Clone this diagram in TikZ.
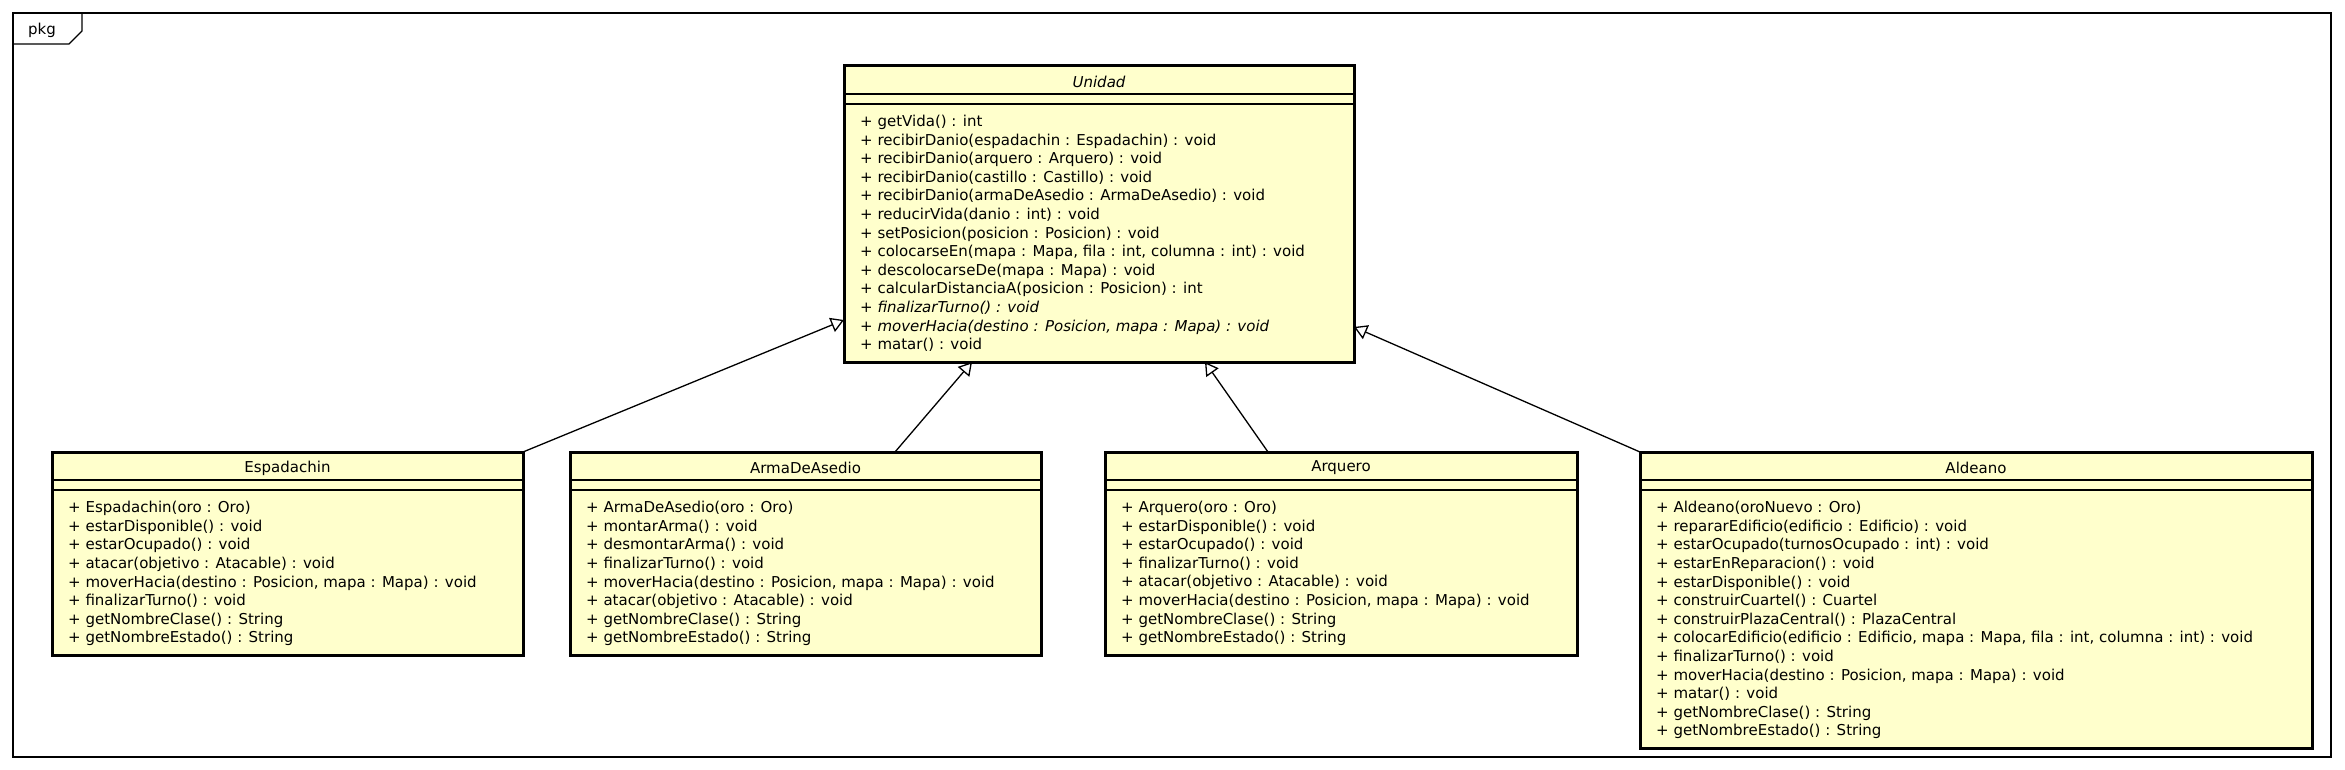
\documentclass[tikz,border=0pt]{standalone}
\usepackage{fontspec}
\setmainfont{DejaVu Sans}
\usetikzlibrary{arrows.meta,positioning}
\definecolor{amarilloUML}{HTML}{FFFFCC}

\begin{document}
\begin{tikzpicture}[x=1pt,y=-1pt,
    clase/.style={draw,line width=3pt,fill=amarilloUML,inner sep=0pt,outer sep=0pt,anchor=north west},
    titulo/.style={font=\fontsize{15}{18.6}\selectfont,inner sep=0pt},
    metodos/.style={font=\fontsize{15}{18.6}\selectfont,align=left,inner sep=0pt,anchor=north west},
    separa/.style={line width=1.2pt},
    hereda/.style={line width=1.3pt,-{Triangle[open,length=13pt,width=15pt]}}]
  \useasboundingbox (0,0) rectangle (2345,770);

  % marco del paquete
  \draw[line width=1.3pt] (13,13) rectangle (2331,757);
  \draw[line width=1.3pt] (13,13) -| (82,31) -- (69,44) -- (13,44);
  \node[titulo] (pkg) at (42,30) {pkg};

  % clase abstracta
  \node[clase,minimum width=510pt,minimum height=296pt] (unidad) at (844,66) {};
  \draw[separa] ([yshift=-28pt]unidad.north west) -- ([yshift=-28pt]unidad.north east);
  \draw[separa] ([yshift=-38pt]unidad.north west) -- ([yshift=-38pt]unidad.north east);
  \node[titulo] (unidadT) at ([yshift=-16pt]unidad.north) {\itshape Unidad};
  \node[metodos] (unidadM) at ([xshift=16pt,yshift=-49pt]unidad.north west) {%
    + getVida() : int\\
    + recibirDanio(espadachin : Espadachin) : void\\
    + recibirDanio(arquero : Arquero) : void\\
    + recibirDanio(castillo : Castillo) : void\\
    + recibirDanio(armaDeAsedio : ArmaDeAsedio) : void\\
    + reducirVida(danio : int) : void\\
    + setPosicion(posicion : Posicion) : void\\
    + colocarseEn(mapa : Mapa, fila : int, columna : int) : void\\
    + descolocarseDe(mapa : Mapa) : void\\
    + calcularDistanciaA(posicion : Posicion) : int\\
    \textit{+ finalizarTurno() : void}\\
    \textit{+ moverHacia(destino : Posicion, mapa : Mapa) : void}\\
    + matar() : void};

  % subclases
  \node[clase,minimum width=471pt,minimum height=203pt] (espadachin) at (52,452) {};
  \draw[separa] ([yshift=-28pt]espadachin.north west) -- ([yshift=-28pt]espadachin.north east);
  \draw[separa] ([yshift=-38pt]espadachin.north west) -- ([yshift=-38pt]espadachin.north east);
  \node[titulo] (espadachinT) at ([yshift=-16pt]espadachin.north) {Espadachin};
  \node[metodos] (espadachinM) at ([xshift=16pt,yshift=-49pt]espadachin.north west) {%
    + Espadachin(oro : Oro)\\
    + estarDisponible() : void\\
    + estarOcupado() : void\\
    + atacar(objetivo : Atacable) : void\\
    + moverHacia(destino : Posicion, mapa : Mapa) : void\\
    + finalizarTurno() : void\\
    + getNombreClase() : String\\
    + getNombreEstado() : String};

  \node[clase,minimum width=471pt,minimum height=203pt] (arma) at (570,452) {};
  \draw[separa] ([yshift=-28pt]arma.north west) -- ([yshift=-28pt]arma.north east);
  \draw[separa] ([yshift=-38pt]arma.north west) -- ([yshift=-38pt]arma.north east);
  \node[titulo] (armaT) at ([yshift=-16pt]arma.north) {ArmaDeAsedio};
  \node[metodos] (armaM) at ([xshift=16pt,yshift=-49pt]arma.north west) {%
    + ArmaDeAsedio(oro : Oro)\\
    + montarArma() : void\\
    + desmontarArma() : void\\
    + finalizarTurno() : void\\
    + moverHacia(destino : Posicion, mapa : Mapa) : void\\
    + atacar(objetivo : Atacable) : void\\
    + getNombreClase() : String\\
    + getNombreEstado() : String};

  \node[clase,minimum width=472pt,minimum height=203pt] (arquero) at (1105,452) {};
  \draw[separa] ([yshift=-28pt]arquero.north west) -- ([yshift=-28pt]arquero.north east);
  \draw[separa] ([yshift=-38pt]arquero.north west) -- ([yshift=-38pt]arquero.north east);
  \node[titulo] (arqueroT) at ([yshift=-16pt]arquero.north) {Arquero};
  \node[metodos] (arqueroM) at ([xshift=16pt,yshift=-49pt]arquero.north west) {%
    + Arquero(oro : Oro)\\
    + estarDisponible() : void\\
    + estarOcupado() : void\\
    + finalizarTurno() : void\\
    + atacar(objetivo : Atacable) : void\\
    + moverHacia(destino : Posicion, mapa : Mapa) : void\\
    + getNombreClase() : String\\
    + getNombreEstado() : String};

  \node[clase,minimum width=672pt,minimum height=296pt] (aldeano) at (1640,452) {};
  \draw[separa] ([yshift=-28pt]aldeano.north west) -- ([yshift=-28pt]aldeano.north east);
  \draw[separa] ([yshift=-38pt]aldeano.north west) -- ([yshift=-38pt]aldeano.north east);
  \node[titulo] (aldeanoT) at ([yshift=-16pt]aldeano.north) {Aldeano};
  \node[metodos] (aldeanoM) at ([xshift=16pt,yshift=-49pt]aldeano.north west) {%
    + Aldeano(oroNuevo : Oro)\\
    + repararEdificio(edificio : Edificio) : void\\
    + estarOcupado(turnosOcupado : int) : void\\
    + estarEnReparacion() : void\\
    + estarDisponible() : void\\
    + construirCuartel() : Cuartel\\
    + construirPlazaCentral() : PlazaCentral\\
    + colocarEdificio(edificio : Edificio, mapa : Mapa, fila : int, columna : int) : void\\
    + finalizarTurno() : void\\
    + moverHacia(destino : Posicion, mapa : Mapa) : void\\
    + matar() : void\\
    + getNombreClase() : String\\
    + getNombreEstado() : String};

  % generalizaciones
  \draw[hereda] (espadachin.north east) -- ([yshift=42pt]unidad.south west);
  \draw[hereda] ([xshift=325pt]arma.north west) -- ([xshift=128pt]unidad.south west);
  \draw[hereda] ([xshift=163pt]arquero.north west) -- ([xshift=361pt]unidad.south west);
  \draw[hereda] (aldeano.north west) -- ([yshift=35pt]unidad.south east);
\end{tikzpicture}
\end{document}
